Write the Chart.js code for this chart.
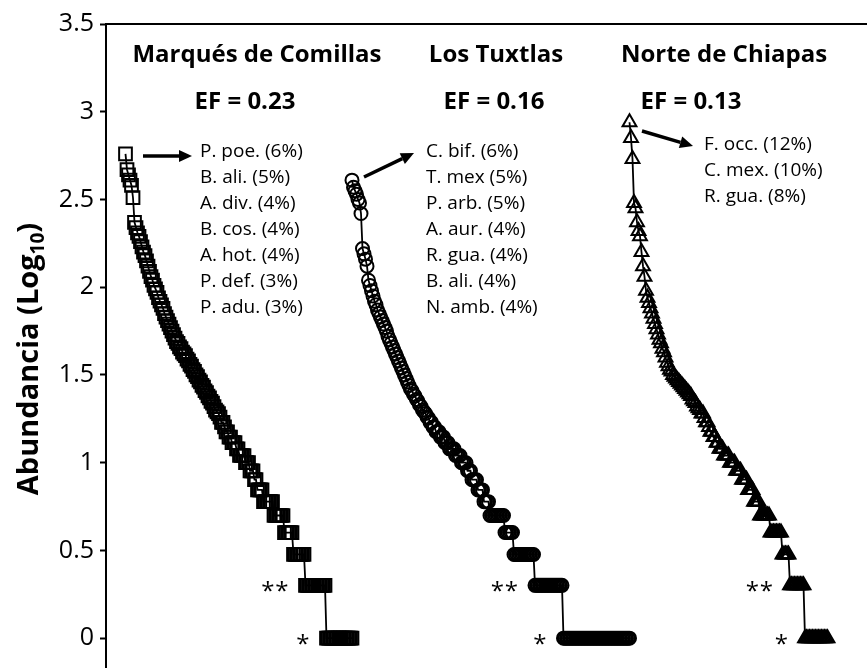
<!DOCTYPE html>
<html>
<head>
<meta charset="utf-8">
<script src="https://cdn.jsdelivr.net/npm/chart.js@4.4.1/dist/chart.umd.min.js"></script>
<style>
    html, body { margin: 0; padding: 0; background: #fff; }
    #wrap { width: 867px; height: 668px; position: relative; }
</style>
</head>
<body>
<div id="wrap"><canvas id="rankChart"></canvas></div>
<script>
// ========== DATA ==========
// rank-abundance curves, log10(individuals) per species, ordered by rank
const siteNames = ['Marqués de Comillas', 'Los Tuxtlas', 'Norte de Chiapas'];
const siteEF = ['EF = 0.23', 'EF = 0.16', 'EF = 0.13'];

// where each site's first species sits on the shared rank axis
const firstRank = [13, 164, 349];
const lastRankAxis = 507.33;

const mcValues = [
    2.76, 2.67, 2.64, 2.61, 2.58, 2.51, 2.37, 2.34, 2.31, 2.29,
    2.26, 2.23, 2.20, 2.18, 2.15, 2.12, 2.09, 2.06, 2.04, 2.01,
    1.99, 1.97, 1.94, 1.92, 1.90, 1.88, 1.85, 1.83, 1.81, 1.79,
    1.77, 1.75, 1.73, 1.71, 1.69, 1.68, 1.66, 1.65, 1.63, 1.62,
    1.61, 1.59, 1.58, 1.56, 1.55, 1.53, 1.52, 1.50, 1.49, 1.47,
    1.46, 1.44, 1.43, 1.41, 1.40, 1.38, 1.37, 1.35, 1.34, 1.32,
    1.30, 1.29, 1.28, 1.26, 1.23, 1.23, 1.204, 1.176, 1.176, 1.146,
    1.146, 1.114, 1.114, 1.114, 1.079, 1.079, 1.041, 1.041, 1.041, 1.041,
    1, 1, 1, 0.954, 0.954, 0.954, 0.903, 0.903, 0.845, 0.845,
    0.845, 0.845,
    0.778, 0.778, 0.778, 0.778, 0.778, 0.778, 0.778,
    0.699, 0.699, 0.699, 0.699, 0.699, 0.699, 0.699,
    0.602, 0.602, 0.602, 0.602, 0.602, 0.602,
    0.477, 0.477, 0.477, 0.477, 0.477, 0.477, 0.477, 0.477,
    0.301, 0.301, 0.301, 0.301, 0.301, 0.301, 0.301,
    0.301, 0.301, 0.301, 0.301, 0.301, 0.301, 0.301,
    0, 0, 0, 0, 0, 0, 0, 0, 0,
    0, 0, 0, 0, 0, 0, 0, 0, 0
];

const ltValues = [
    2.61, 2.57, 2.55, 2.53, 2.50, 2.48, 2.42, 2.22, 2.19, 2.16,
    2.12, 2.04, 2.01, 1.98, 1.95, 1.92, 1.90, 1.87, 1.85, 1.83,
    1.81, 1.79, 1.77, 1.75, 1.72, 1.70, 1.68, 1.66, 1.64, 1.62,
    1.60, 1.58, 1.56, 1.54, 1.52, 1.50, 1.48, 1.46, 1.44, 1.42,
    1.41, 1.39, 1.38, 1.36, 1.35, 1.33, 1.32, 1.30, 1.29, 1.28,
    1.26, 1.255, 1.23, 1.23, 1.204, 1.204, 1.176, 1.176, 1.176, 1.146,
    1.146, 1.146, 1.114, 1.114, 1.114, 1.079, 1.079, 1.079, 1.079, 1.041,
    1.041, 1.041, 1.041, 1, 1, 1, 1, 0.954, 0.954, 0.954,
    0.903, 0.903, 0.903, 0.903, 0.845, 0.845, 0.845, 0.845, 0.778, 0.778,
    0.778, 0.778,
    0.699, 0.699, 0.699, 0.699, 0.699, 0.699, 0.699, 0.699, 0.699, 0.699,
    0.602, 0.602, 0.602, 0.602, 0.602, 0.602,
    0.477, 0.477, 0.477, 0.477, 0.477, 0.477, 0.477,
    0.477, 0.477, 0.477, 0.477, 0.477, 0.477, 0.477,
    0.301, 0.301, 0.301, 0.301, 0.301, 0.301, 0.301, 0.301, 0.301, 0.301,
    0.301, 0.301, 0.301, 0.301, 0.301, 0.301, 0.301, 0.301, 0.301,
    0, 0, 0, 0, 0, 0, 0, 0, 0, 0, 0, 0, 0, 0, 0,
    0, 0, 0, 0, 0, 0, 0, 0, 0, 0, 0, 0, 0, 0, 0,
    0, 0, 0, 0, 0, 0, 0, 0, 0, 0, 0, 0, 0, 0, 0
];

const ncValues = [
    2.94, 2.85, 2.73, 2.48, 2.45, 2.37, 2.32, 2.29, 2.20, 2.12,
    2.06, 1.98, 1.94, 1.91, 1.88, 1.85, 1.82, 1.79, 1.76, 1.73,
    1.70, 1.68, 1.65, 1.63, 1.60, 1.57, 1.55, 1.53, 1.52, 1.50,
    1.49, 1.48, 1.47, 1.46, 1.45, 1.44, 1.43, 1.42, 1.41, 1.40,
    1.39, 1.38, 1.36, 1.35, 1.34, 1.32, 1.31, 1.30, 1.28, 1.28,
    1.255, 1.23, 1.23, 1.204, 1.176, 1.176, 1.146, 1.146, 1.114, 1.114,
    1.079, 1.079, 1.079, 1.041, 1.041, 1.041, 1.041, 1, 1, 1,
    1, 0.954, 0.954, 0.954, 0.954, 0.903, 0.903, 0.903, 0.903, 0.845,
    0.845, 0.845, 0.845, 0.778, 0.778, 0.778, 0.778,
    0.699, 0.699, 0.699, 0.699, 0.699, 0.699, 0.699,
    0.602, 0.602, 0.602, 0.602, 0.602, 0.602, 0.602, 0.602,
    0.477, 0.477, 0.477, 0.477, 0.477,
    0.301, 0.301, 0.301, 0.301, 0.301, 0.301, 0.301, 0.301, 0.301, 0.301,
    0, 0, 0, 0, 0, 0, 0, 0, 0, 0, 0, 0, 0, 0, 0, 0
];

// dominant species of each site
const mcTopSpecies = ['P. poe. (6%)', 'B. ali. (5%)', 'A. div. (4%)', 'B. cos. (4%)', 'A. hot. (4%)', 'P. def. (3%)', 'P. adu. (3%)'];
const ltTopSpecies = ['C. bif. (6%)', 'T. mex (5%)', 'P. arb. (5%)', 'A. aur. (4%)', 'R. gua. (4%)', 'B. ali. (4%)', 'N. amb. (4%)'];
const ncTopSpecies = ['F. occ. (12%)', 'C. mex. (10%)', 'R. gua. (8%)'];

const yTickValues = [0, 0.5, 1, 1.5, 2, 2.5, 3, 3.5];

// ========== CHART ==========
const FONT = '"Open Sans", "DejaVu Sans", sans-serif';

function toPoints(values, start) {
    return values.map((v, i) => ({ x: start + i, y: v }));
}

function seriesStyle(shape, radius) {
    return {
        borderColor: '#000',
        borderWidth: 1.8,
        tension: 0,
        fill: false,
        pointStyle: shape,
        pointRadius: radius,
        pointBorderWidth: 2,
        pointBorderColor: '#000',
        pointBackgroundColor: 'rgba(0,0,0,0)',
        clip: false
    };
}

// titles, labels, arrows and asterisks
const annotations = {
    id: 'annotations',
    afterDatasetsDraw(chart) {
        const ctx = chart.ctx;
        const area = chart.chartArea;
        ctx.save();

        // top frame line
        ctx.strokeStyle = '#000';
        ctx.lineWidth = 2;
        ctx.beginPath();
        ctx.moveTo(area.left - 1, area.top);
        ctx.lineTo(area.right, area.top);
        ctx.stroke();

        ctx.fillStyle = '#000';
        ctx.textBaseline = 'middle';
        ctx.textAlign = 'center';
        ctx.font = 'bold 24px ' + FONT;
        const titleX = [257, 496, 724];
        const efX = [245, 494, 691];
        siteNames.forEach((name, i) => ctx.fillText(name, titleX[i], 55));
        siteEF.forEach((ef, i) => ctx.fillText(ef, efX[i], 102));

        // species lists
        ctx.textAlign = 'left';
        ctx.font = '19px ' + FONT;
        const lists = [mcTopSpecies, ltTopSpecies, ncTopSpecies];
        const listX = [200, 426, 704];
        const listY = [152, 152, 145];
        lists.forEach((list, i) => {
            list.forEach((txt, j) => ctx.fillText(txt, listX[i], listY[i] + j * 26));
        });

        // arrows
        const arrows = [[143, 156, 192, 156], [364, 177, 414, 153], [642, 131, 693, 146]];
        arrows.forEach(([x1, y1, x2, y2]) => {
            const ang = Math.atan2(y2 - y1, x2 - x1);
            const headLen = 13, headHalf = 6;
            ctx.lineWidth = 3.5;
            ctx.beginPath();
            ctx.moveTo(x1, y1);
            ctx.lineTo(x2 - headLen * Math.cos(ang), y2 - headLen * Math.sin(ang));
            ctx.stroke();
            ctx.beginPath();
            ctx.moveTo(x2, y2);
            ctx.lineTo(x2 - headLen * Math.cos(ang) - headHalf * Math.sin(ang), y2 - headLen * Math.sin(ang) + headHalf * Math.cos(ang));
            ctx.lineTo(x2 - headLen * Math.cos(ang) + headHalf * Math.sin(ang), y2 - headLen * Math.sin(ang) - headHalf * Math.cos(ang));
            ctx.closePath();
            ctx.fill();
        });

        // ** doubletons, * singletons
        ctx.font = '24px ' + FONT;
        ctx.textAlign = 'right';
        ctx.textBaseline = 'alphabetic';
        chart.data.datasets.forEach((ds, i) => {
            const meta = chart.getDatasetMeta(i);
            const values = ds.data.map(p => p.y);
            const iTwo = values.indexOf(0.301);
            const iOne = values.indexOf(0);
            const p2 = meta.data[iTwo], p1 = meta.data[iOne];
            ctx.fillText('*', p2.x - 17, p2.y + 14);
            ctx.fillText('*', p2.x - 31, p2.y + 14);
            ctx.fillText('*', p1.x - 17, p1.y + 14);
        });

        // y axis title with subscript
        ctx.translate(38, 359);
        ctx.rotate(-Math.PI / 2);
        ctx.textAlign = 'left';
        const big = 'bold 29px ' + FONT, small = 'bold 19px ' + FONT;
        ctx.font = big;
        const w1 = ctx.measureText('Abundancia (Log').width;
        const w3 = ctx.measureText(')').width;
        ctx.font = small;
        const w2 = ctx.measureText('10').width;
        let tx = -(w1 + w2 + w3) / 2;
        ctx.font = big;
        ctx.fillText('Abundancia (Log', tx, 0);
        tx += w1;
        ctx.font = small;
        ctx.fillText('10', tx, 6);
        tx += w2;
        ctx.font = big;
        ctx.fillText(')', tx, 0);

        ctx.restore();
    }
};

const ctx = document.getElementById('rankChart').getContext('2d');
const rankChart = new Chart(ctx, {
    type: 'line',
    data: {
        datasets: [
            Object.assign({ label: siteNames[0], data: toPoints(mcValues, firstRank[0]) }, seriesStyle('rect', 9)),
            Object.assign({ label: siteNames[1], data: toPoints(ltValues, firstRank[1]) }, seriesStyle('circle', 6.5)),
            Object.assign({ label: siteNames[2], data: toPoints(ncValues, firstRank[2]) }, seriesStyle('triangle', 8))
        ]
    },
    options: {
        responsive: true,
        maintainAspectRatio: false,
        animation: false,
        layout: { autoPadding: false, padding: { top: 24, right: 0, bottom: 0, left: 0 } },
        plugins: {
            legend: { display: false },
            tooltip: { enabled: false }
        },
        scales: {
            x: { type: 'linear', display: false, min: 0, max: lastRankAxis },
            y: {
                min: -0.17,
                max: 3.5,
                afterBuildTicks: scale => { scale.ticks = yTickValues.map(v => ({ value: v })); },
                afterFit: scale => {
                    scale.width = 106;
                    scale.paddingTop = 0;
                    scale.paddingBottom = 0;
                },
                border: { display: true, color: '#000', width: 2 },
                grid: { drawOnChartArea: false, drawTicks: true, tickLength: 6, tickColor: '#000', tickWidth: 2 },
                ticks: {
                    color: '#000',
                    padding: 6,
                    font: { family: FONT, size: 25, lineHeight: 0.1 },
                    callback: v => String(v)
                }
            }
        }
    },
    plugins: [annotations]
});
</script>
</body>
</html>
